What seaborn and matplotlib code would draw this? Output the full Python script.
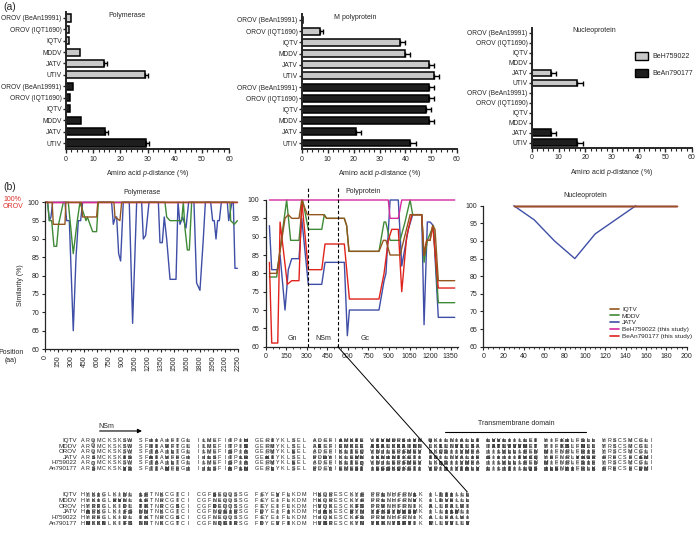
import numpy as np
import pandas as pd
import matplotlib
matplotlib.use("Agg")
import matplotlib.pyplot as plt
import seaborn as sns
from matplotlib.patches import ConnectionPatch, Patch
from matplotlib.lines import Line2D
from matplotlib.ticker import MultipleLocator

# --- (a) p-distance de aminoácidos ---
virus_labels = ["OROV (BeAn19991)", "OROV (IQT1690)", "IQTV", "MDDV", "JATV", "UTIV"]
strains = ["BeH759022", "BeAn790177"]

pol_beh = [2.0, 1.0, 1.0, 5.0, 14.0, 29.0]
pol_beh_err = [0.0, 0.0, 0.0, 0.0, 1.0, 1.0]
pol_bea = [2.5, 1.3, 1.3, 5.5, 14.5, 29.5]
pol_bea_err = [0.0, 0.0, 0.0, 0.0, 1.0, 1.0]

mpol_beh = [0.5, 7.0, 38.0, 40.0, 49.0, 51.0]
mpol_beh_err = [0.0, 1.0, 2.0, 2.0, 2.0, 2.0]
mpol_bea = [49.0, 49.0, 48.0, 49.0, 21.0, 42.0]
mpol_bea_err = [2.0, 2.0, 2.0, 2.0, 2.0, 2.0]

nuc_beh = [0.0, 0.0, 0.0, 0.0, 7.0, 17.0]
nuc_beh_err = [0.0, 0.0, 0.0, 0.0, 2.0, 2.0]
nuc_bea = [0.0, 0.0, 0.0, 0.0, 7.0, 17.0]
nuc_bea_err = [0.0, 0.0, 0.0, 0.0, 2.0, 2.0]

# --- (b) similaridade ---
series = ["IQTV", "MDDV", "JATV", "BeH759022 (this study)", "BeAn790177 (this study)"]

pol_x_iqtv = [0, 80, 93, 229, 240, 420, 435, 598, 612, 800, 812, 870, 890, 2240]
pol_y_iqtv = [100, 100, 94, 94, 100, 100, 96, 96, 100, 100, 96, 95, 100, 100]
pol_x_mddv = [0, 27, 47, 74, 101, 132, 155, 210, 268, 326, 373, 404, 474, 490, 552, 598, 618,
              1395, 1415, 1454, 1590, 1609, 1628, 1656, 1679, 1706, 2153, 2161, 2204, 2239]
pol_y_mddv = [100, 100, 95, 95, 88, 88, 94, 100, 100, 86, 95, 100, 95, 96, 92, 92, 100,
              100, 96, 95, 95, 100, 93, 87, 87, 100, 100, 95, 94, 95]
pol_x_jatv = [0, 27, 47, 66, 86, 229, 249, 280, 326, 358, 385, 412, 435, 773, 793, 816, 832, 855,
              878, 909, 979, 1018, 1065, 1123, 1143, 1170, 1209, 1318, 1337, 1364, 1387, 1415,
              1454, 1524, 1547, 1570, 1601, 1640, 1671, 1733, 1764, 1803, 1842, 1866, 1928, 1951,
              1970, 1990, 2009, 2029, 2052, 2122, 2138, 2153, 2176, 2192, 2211, 2239]
pol_y_jatv = [100, 100, 95, 96, 100, 100, 95, 95, 65, 85, 95, 95, 100, 100, 94, 96, 96, 86,
              84, 100, 100, 67, 100, 100, 90, 91, 100, 100, 89, 89, 96, 90,
              79, 79, 100, 94, 96, 93, 100, 100, 78, 76, 90, 100, 100, 95,
              95, 90, 95, 95, 100, 100, 95, 97, 100, 100, 82, 82]
pol_x_beh = [0, 2240]
pol_y_beh = [100, 100]
pol_x_bea = [0, 2240]
pol_y_bea = [100, 100]

pp_x_iqtv = [27, 80, 141, 165, 190, 243, 263, 304, 421, 445, 574, 591, 608, 827, 859, 878, 908,
             981, 1054, 1139, 1156, 1175, 1200, 1219, 1236, 1260, 1380]
pp_y_iqtv = [80, 80, 95, 96, 95, 95, 100, 96, 96, 95, 95, 93, 86, 86, 89, 89, 85,
             85, 96, 96, 85, 89, 89, 93, 92, 78, 78]
pp_x_mddv = [27, 80, 117, 153, 182, 243, 270, 311, 409, 428, 445, 574, 591, 608, 827, 864, 876,
             908, 981, 1017, 1054, 1073, 1139, 1156, 1180, 1224, 1260, 1380]
pp_y_mddv = [79, 79, 90, 100, 89, 89, 100, 92, 92, 96, 95, 95, 93, 86, 86, 94, 94,
             89, 89, 94, 100, 96, 96, 83, 89, 93, 72, 72]
pp_x_jatv = [27, 44, 88, 105, 141, 165, 190, 243, 263, 311, 409, 433, 574, 596, 611, 827, 864,
             878, 908, 968, 993, 1041, 1073, 1139, 1156, 1180, 1200, 1224, 1260, 1380]
pp_y_jatv = [93, 81, 81, 85, 70, 81, 84, 84, 95, 77, 77, 83, 83, 63, 70, 70, 78,
             80, 100, 100, 82, 92, 96, 96, 66, 94, 94, 93, 68, 68]
pp_x_beh = [27, 895, 908, 968, 993, 1380]
pp_y_beh = [100, 100, 95, 95, 100, 100]
pp_x_bea = [27, 44, 88, 105, 158, 190, 243, 263, 311, 409, 433, 574, 611, 827, 864, 895, 920,
            968, 993, 1029, 1066, 1139, 1156, 1175, 1200, 1219, 1260, 1380]
pp_y_bea = [83, 61, 61, 94, 77, 78, 78, 100, 81, 81, 88, 88, 73, 73, 80, 89, 92,
            92, 75, 90, 96, 96, 85, 89, 89, 93, 76, 76]
pp_regions = ["Gn", "NSm", "Gc"]
pp_region_pos = [192, 418, 725]
pp_borders = [306, 526]

nuc_x_iqtv = [30, 190]
nuc_y_iqtv = [100, 100]
nuc_x_mddv = [30, 190]
nuc_y_mddv = [100, 100]
nuc_x_jatv = [30, 50, 70, 90, 110, 130, 150]
nuc_y_jatv = [100, 96, 90, 85, 92, 96, 100]
nuc_x_beh = [30, 190]
nuc_y_beh = [100, 100]
nuc_x_bea = [30, 190]
nuc_y_bea = [100, 100]

# --- alinhamento ---
aln_names = ["IQTV", "MDDV", "OROV", "JATV", "H759022", "An790177"]
aln_block1 = [
    "ARQMCKSKSW SFIIAIFTGL ILMEFITPIH GERTYKLSEL ADEFIAMKTE VTVMDRSIYN QKILNIALLT LVVLIILLET YIFKILFSLL YRSCSMCGLI",
    "ARQMCKSKSW SFIIAVFTGL ILMEFITPIS GERMYKLSEL AEEFIEMKEE ASALKKAINN LKLLNVLLSA IATLVVVMET YIFKSLFNLL YRSCSMCGLI",
    "ARQMCKSKSW SFTAAILTGL ILMEFISPIA GERMYKLEEL ADEFIKLTEQ VNILEREMEV LKQSIIVMFA IILVLLLFEN MIFNRLFRIF YRSCSMCGLI",
    "ARSMCKSKTS SFATAVFFGI IILSFITPLR GEKTYKLSEL PDDYIKLEMN IKNINTKETI TDILNYALIF SIIIIITVCQ YFFNRLYKGR FRFCSFCEMI",
    "ARQMCKSKSW SFTAAILTGL ILMEFISPIA GERMYKLEEL ADEFIKLTEQ VNILEREMEV LKQSIIVMFA IILVLLLFEN MIFNRLFSIF YRSCSMCGLI",
    "ARSMCKSKVS SFTTAMFFGI IILSFIAPLN GERLYKLSEL PDEYIEMEST IEGSKQKETI VDIIIYTALV LILITILLQS ILENYIFRLK FRFCSFCDMI",
]
aln_block2 = [
    "HYKIGLKINL LFTNKCGTCI CGFSEQQSSG FEYEVFLKDM HKQRESCKYF PRLNHFRNLK ILTTILLL",
    "HYKIGLRVNL LFTNRCGTCI CGFNEQQSSG FEYEIFLKDM HKQRESCKYF PRLNHFRNVK ILTVFLLL",
    "HYRFGLKIDL TKTNRCGSCI CGFDEQQSSG FEYEIFLKDM HVQKESCKFS PRVNHFRNIK ALLFALVI",
    "HARKGLKIFS NNTNKCGTCI CGFNQEIRSG FDYEIFIKDM HIAKESCRYN YFKSYNVSMK ILLILMLI",
    "HYRFGLKIDL TKTNRCGSCI CGFNEQQSSG FEYEIFLKDM HIQKESCKFS PRVNHFRNIK ALLFALVI",
    "HMKKNLKIFS NNTNKCGTCI CGFNQEIRSG FDYEVFIKDM HVSRESCKYN YKKNYSFYIK MLLVVLLV",
]

# --- estilo ---
sns.set_theme(style="ticks")
plt.rcParams["font.family"] = ["Liberation Sans", "DejaVu Sans"]
plt.rcParams["mathtext.fontset"] = "custom"
plt.rcParams["mathtext.it"] = "Liberation Sans:italic"
plt.rcParams["mathtext.rm"] = "Liberation Sans"
FS = 5.0

bar_colors = {"BeH759022": "#c9c9c9", "BeAn790177": "#1e1e1e"}
line_colors = {"IQTV": "#94561f", "MDDV": "#3f8a36", "JATV": "#3f4ea6",
               "BeH759022 (this study)": "#d42a9e", "BeAn790177 (this study)": "#e0231c"}

fig = plt.figure(figsize=(6.96, 5.48), dpi=100)
W, H = 696, 548


def rect(x0, y_top, x1, y_bot):
    return [x0 / W, 1 - y_bot / H, (x1 - x0) / W, (y_bot - y_top) / H]


def bar_panel(ax, beh, beh_err, bea, bea_err, title, tx):
    df = pd.DataFrame({
        "slot": [str(i) for i in range(12)],
        "value": list(beh) + list(bea),
        "err": list(beh_err) + list(bea_err),
        "strain": [strains[0]] * 6 + [strains[1]] * 6,
    })
    sns.barplot(data=df, x="value", y="slot", hue="strain", order=list(df["slot"]),
                hue_order=strains, palette=bar_colors, dodge=False, width=0.62,
                edgecolor="black", linewidth=1.1, orient="h", legend=False, ax=ax)
    has = (df["err"] > 0).to_numpy()
    ax.errorbar(df["value"][has], np.arange(12)[has],
                xerr=[np.zeros(has.sum()), df["err"][has]], fmt="none",
                ecolor="black", elinewidth=1.0, capsize=1.8, capthick=1.0)
    ax.set_xlim(0, 60)
    ax.set_ylim(11.5, -0.5)
    ax.set_yticks(range(12))
    ax.set_yticklabels(virus_labels * 2, fontsize=4.8)
    ax.xaxis.set_major_locator(MultipleLocator(10))
    ax.xaxis.set_minor_locator(MultipleLocator(2))
    ax.tick_params(axis="x", which="major", labelsize=FS, length=3, width=1.0, pad=2)
    ax.tick_params(axis="x", which="minor", length=1.8, width=0.8)
    ax.tick_params(axis="y", length=2, width=1.0, pad=1.2)
    ax.set_ylabel("")
    ax.set_xlabel("Amino acid $\\it{p}$-distance (%)", fontsize=FS, labelpad=4)
    ax.text(tx, -0.2, title, ha="center", va="center", fontsize=FS)
    sns.despine(ax=ax)
    for s in ["left", "bottom"]:
        ax.spines[s].set_linewidth(1.4)


def line_panel(ax, xs, ys, xmax, major, minor):
    frames = []
    for name, x, y in zip(series, xs, ys):
        frames.append(pd.DataFrame({"pos": x, "sim": y, "virus": name}))
    df = pd.concat(frames, ignore_index=True)
    order = ["JATV", "MDDV", "BeAn790177 (this study)", "BeH759022 (this study)", "IQTV"]
    sns.lineplot(data=df, x="pos", y="sim", hue="virus", hue_order=order, palette=line_colors,
                 estimator=None, sort=False, linewidth=1.0, legend=False, ax=ax)
    for ln in ax.lines:
        ln.set_clip_on(False)
    ax.set_xlim(0, xmax)
    ax.set_ylim(60, 100)
    ax.set_yticks(range(60, 101, 5))
    ax.xaxis.set_major_locator(MultipleLocator(major))
    ax.xaxis.set_minor_locator(MultipleLocator(minor))
    ax.tick_params(labelsize=FS, length=2.5, width=0.8, pad=2)
    ax.tick_params(which="minor", length=1.5, width=0.6)
    ax.set_xlabel("")
    ax.set_ylabel("")
    sns.despine(ax=ax)
    for s in ["left", "bottom"]:
        ax.spines[s].set_linewidth(0.9)


# (a)
ax_a1 = fig.add_axes(rect(66, 12.3, 229, 148.7))
bar_panel(ax_a1, pol_beh, pol_beh_err, pol_bea, pol_bea_err, "Polymerase", 22.5)
ax_a2 = fig.add_axes(rect(302, 14.4, 457, 148.6))
bar_panel(ax_a2, mpol_beh, mpol_beh_err, mpol_bea, mpol_bea_err, "M polyprotein", 20.5)
ax_a3 = fig.add_axes(rect(532, 28, 692, 147.5))
bar_panel(ax_a3, nuc_beh, nuc_beh_err, nuc_bea, nuc_bea_err, "Nucleoprotein", 23.5)

fig.legend(handles=[Patch(facecolor=bar_colors[s], edgecolor="black", linewidth=1.0) for s in strains],
           labels=strains, loc="upper left", bbox_to_anchor=(635 / W, 1 - 52 / H), frameon=False,
           fontsize=FS, handlelength=1.9, handleheight=1.3, labelspacing=1.3, handletextpad=0.6,
           borderpad=0, borderaxespad=0)

# (b)
ax_b1 = fig.add_axes(rect(45.3, 202.3, 238.3, 349))
line_panel(ax_b1, [pol_x_iqtv, pol_x_mddv, pol_x_jatv, pol_x_beh, pol_x_bea],
           [pol_y_iqtv, pol_y_mddv, pol_y_jatv, pol_y_beh, pol_y_bea], 2250, 150, 50)
ax_b1.tick_params(axis="x", labelrotation=90)
ax_b1.set_title("Polymerase", fontsize=FS, pad=6)

ax_b2 = fig.add_axes(rect(265.7, 200, 458.3, 346.7))
line_panel(ax_b2, [pp_x_iqtv, pp_x_mddv, pp_x_jatv, pp_x_beh, pp_x_bea],
           [pp_y_iqtv, pp_y_mddv, pp_y_jatv, pp_y_beh, pp_y_bea], 1406, 150, 50)
for b in pp_borders:
    ax_b2.axvline(b, ymin=0, ymax=1.08, color="black", lw=0.8, ls=(0, (3, 2)), clip_on=False)
for lab, pos in zip(pp_regions, pp_region_pos):
    ax_b2.text(pos, 62.1, lab, ha="center", va="center", fontsize=FS)
ax_b2.text(579, 102.2, "Polyprotein", ha="left", va="center", fontsize=FS)

ax_b3 = fig.add_axes(rect(483.3, 205.7, 686.7, 346.7))
line_panel(ax_b3, [nuc_x_iqtv, nuc_x_mddv, nuc_x_jatv, nuc_x_beh, nuc_x_bea],
           [nuc_y_iqtv, nuc_y_mddv, nuc_y_jatv, nuc_y_beh, nuc_y_bea], 200, 20, 5)
ax_b3.set_title("Nucleoprotein", fontsize=FS, pad=6)
ax_b3.legend(handles=[Line2D([0], [0], color=line_colors[s], lw=1.2) for s in series],
             labels=series, loc="lower left", bbox_to_anchor=(0.625, 0.055), frameon=False,
             fontsize=4.6, handlelength=1.3, handletextpad=0.5, labelspacing=0.2,
             borderaxespad=0, borderpad=0)

fig.text(3 / W, 1 - 196 / H, "100%\nOROV", color="#d9302a", fontsize=FS, va="top",
         ha="left", linespacing=1.1)
fig.text(20 / W, 1 - 285 / H, "Similarity (%)", rotation=90, ha="center", va="center", fontsize=FS)
fig.text(11 / W, 1 - 349 / H, "Position\n(aa)", ha="center", va="top", fontsize=FS, linespacing=1.1)
fig.text(3 / W, 1 - 2 / H, "(a)", fontsize=7.5, va="top")
fig.text(3 / W, 1 - 182 / H, "(b)", fontsize=7.5, va="top")


# alinhamento (heatmap com letras)
def shade_block(block):
    n = len(block[0])
    vals = np.full((len(block), n), np.nan)
    for j in range(n):
        col = [s[j] for s in block]
        if col[0] == " ":
            continue
        for i, r in enumerate(col):
            if len(set(col)) == 1:
                vals[i, j] = 0.0
            else:
                vals[i, j] = 0.3 + 0.7 * (1 - col.count(r) / len(col))
    letters = np.array([list(s) for s in block])
    return vals, letters


def aln_panel(ax, block):
    vals, letters = shade_block(block)
    sns.heatmap(vals, mask=np.isnan(vals), annot=letters, fmt="", cmap="Greys", vmin=0, vmax=1.25,
                cbar=False, ax=ax, linewidths=0.2, linecolor="white",
                annot_kws={"fontsize": 3.9, "color": "#202020"},
                xticklabels=False, yticklabels=aln_names)
    ax.set_yticklabels(aln_names, rotation=0, fontsize=4.5)
    ax.tick_params(axis="y", length=0, pad=2)
    ax.set_facecolor("white")


ax_c1 = fig.add_axes(rect(80, 437.5, 654, 471.5))
aln_panel(ax_c1, aln_block1)
ax_c2 = fig.add_axes(rect(80, 492, 470, 526))
aln_panel(ax_c2, aln_block2)

ax_c1.annotate("", xy=(12.3, -1.15), xytext=(3.2, -1.15),
               arrowprops=dict(arrowstyle="-|>", lw=0.8, color="black", mutation_scale=6),
               annotation_clip=False)
ax_c1.text(3.4, -1.9, "NSm", fontsize=FS, ha="left", va="center")
ax_c1.plot([69.3, 96.0], [-1.0, -1.0], color="black", lw=0.8, clip_on=False)
ax_c1.text(82.9, -2.4, "Transmembrane domain", fontsize=FS, ha="center", va="center")

con1 = ConnectionPatch(xyA=(pp_borders[0], 60), coordsA="data", axesA=ax_b2,
                       xyB=(3.2, -1.15), coordsB="data", axesB=ax_c1, color="black", lw=0.7)
con2 = ConnectionPatch(xyA=(pp_borders[1], 60), coordsA="data", axesA=ax_b2,
                       xyB=(73.5, 0), coordsB="data", axesB=ax_c2, color="black", lw=0.7)
fig.add_artist(con1)
fig.add_artist(con2)

fig.savefig("out.png", dpi=100)
